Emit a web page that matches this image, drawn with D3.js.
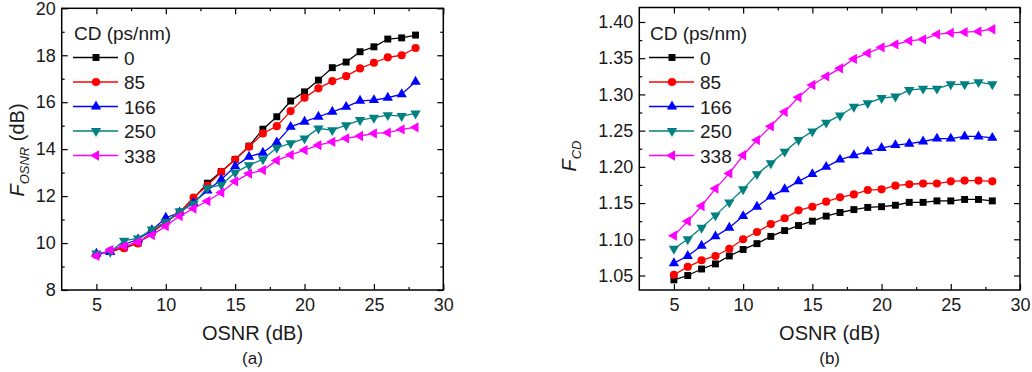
<!DOCTYPE html>
<meta charset="utf-8">
<style>
/*	style definitions	*/
body {
  margin: 0;
  background: #fff;
}

svg {
  font-family: "Liberation Sans", Arial, sans-serif;
}

.axis path {
  display: none;
}

.axis line {
  stroke: #000;
  stroke-width: 1.2px;
}

.axis text {
  font-size: 18px;
  fill: #1a1a1a;
}

.frame {
  fill: none;
  stroke: #000;
  stroke-width: 1.5px;
}

.line {
  fill: none;
  stroke-width: 1.3px;
}

.legend text,
.title {
  font-size: 19px;
  fill: #1a1a1a;
}
</style>

<svg id="chart" width="1032" height="372"></svg>

<script src="https://d3js.org/d3.v7.min.js"></script>

<script>
//	x values (OSNR, dB)
var osnr = [5, 6, 7, 8, 9, 10, 11, 12, 13, 14, 15, 16, 17, 18, 19, 20, 21, 22, 23, 24, 25, 26, 27, 28];

//	legend
var cdLabels = ["0", "85", "166", "250", "338"];
var colors = ["#000000", "#ff0000", "#0000ff", "#008080", "#ff00ff"];

//	panel (a): F_OSNR (dB)
var fOsnr0   = [9.5, 9.65, 9.8, 10.0, 10.45, 10.9, 11.3, 11.9, 12.55, 13.05, 13.56, 14.13, 14.85, 15.38, 16.05, 16.44, 16.94, 17.47, 17.71, 18.15, 18.36, 18.69, 18.74, 18.86];
var fOsnr85  = [9.5, 9.65, 9.78, 9.98, 10.45, 10.9, 11.3, 11.94, 12.45, 13.03, 13.56, 14.1, 14.67, 14.98, 15.62, 16.19, 16.59, 16.9, 17.11, 17.44, 17.68, 17.91, 18.0, 18.31];
var fOsnr166 = [9.55, 9.62, 9.95, 10.15, 10.55, 11.08, 11.3, 11.72, 12.24, 12.71, 13.27, 13.68, 13.85, 14.29, 14.95, 15.17, 15.38, 15.59, 15.8, 16.06, 16.09, 16.19, 16.34, 16.87];
var fOsnr250 = [9.56, 9.63, 10.1, 10.2, 10.58, 10.9, 11.36, 11.68, 12.35, 12.48, 13.0, 13.32, 13.57, 14.06, 14.25, 14.46, 14.88, 14.81, 15.02, 15.24, 15.34, 15.45, 15.41, 15.52];
var fOsnr338 = [9.45, 9.7, 9.87, 10.05, 10.34, 10.72, 11.15, 11.47, 11.79, 12.15, 12.63, 12.96, 13.11, 13.52, 13.76, 13.96, 14.17, 14.31, 14.46, 14.56, 14.67, 14.7, 14.84, 14.93];

//	panel (b): F_CD
var fCd0   = [1.044, 1.05, 1.059, 1.066, 1.077, 1.086, 1.094, 1.104, 1.112, 1.119, 1.125, 1.132, 1.137, 1.141, 1.144, 1.145, 1.147, 1.151, 1.151, 1.153, 1.153, 1.155, 1.155, 1.153];
var fCd85  = [1.051, 1.062, 1.071, 1.077, 1.087, 1.1, 1.11, 1.121, 1.129, 1.14, 1.145, 1.152, 1.158, 1.162, 1.168, 1.169, 1.174, 1.176, 1.177, 1.177, 1.18, 1.181, 1.181, 1.18];
var fCd166 = [1.067, 1.077, 1.091, 1.104, 1.116, 1.132, 1.145, 1.159, 1.169, 1.18, 1.19, 1.2, 1.21, 1.216, 1.221, 1.226, 1.23, 1.232, 1.235, 1.239, 1.239, 1.242, 1.242, 1.24];
var fCd250 = [1.087, 1.1, 1.116, 1.133, 1.151, 1.169, 1.19, 1.205, 1.221, 1.237, 1.249, 1.261, 1.271, 1.283, 1.288, 1.295, 1.297, 1.306, 1.308, 1.308, 1.314, 1.314, 1.317, 1.314];
var fCd338 = [1.105, 1.125, 1.146, 1.17, 1.191, 1.216, 1.237, 1.256, 1.276, 1.296, 1.313, 1.325, 1.336, 1.349, 1.357, 1.365, 1.369, 1.374, 1.376, 1.383, 1.385, 1.386, 1.387, 1.39];

//	tick values
var xMajor = [5, 10, 15, 20, 25, 30];
var xMinor = [7.5, 12.5, 17.5, 22.5, 27.5];
var yMajorA = [8, 10, 12, 14, 16, 18, 20];
var yMinorA = [9, 11, 13, 15, 17, 19];
var yMajorB = [1.05, 1.10, 1.15, 1.20, 1.25, 1.30, 1.35, 1.40];
var yMinorB = [1.075, 1.125, 1.175, 1.225, 1.275, 1.325, 1.375];

var svg = d3.select("svg#chart");

//	marker shapes: square, circle, up, down, left triangles
var shapes = [
  {type: d3.symbolSquare, size: 48, rot: 0},
  {type: d3.symbolCircle, size: 52, rot: 0},
  {type: d3.symbolTriangle, size: 46, rot: 0},
  {type: d3.symbolTriangle, size: 46, rot: 180},
  {type: d3.symbolTriangle, size: 46, rot: -90}
];

function marker(sel, i) {
  sel.attr("d", d3.symbol().type(shapes[i].type).size(shapes[i].size)())
    .attr("fill", colors[i]);
}

function drawPanel(p) {
  var x = d3.scaleLinear().domain([2.5, 30]).range([p.left, p.right]);
  var y = d3.scaleLinear().domain(p.yDomain).range([290, p.top]);
  var g = svg.append("g");

  //	frame
  g.append("rect").attr("class", "frame")
    .attr("x", p.left).attr("y", p.top)
    .attr("width", p.right - p.left).attr("height", 290 - p.top);

  //	axes, ticks point inward
  g.append("g").attr("class", "axis").attr("transform", "translate(0,290)")
    .call(d3.axisBottom(x).tickValues(xMajor).tickSize(-6).tickPadding(8).tickSizeOuter(0));
  g.append("g").attr("class", "axis").attr("transform", "translate(0,290)")
    .call(d3.axisBottom(x).tickValues(xMinor).tickSize(-3).tickFormat("").tickSizeOuter(0));
  g.append("g").attr("class", "axis").attr("transform", "translate(0," + p.top + ")")
    .call(d3.axisTop(x).tickValues(xMajor).tickSize(-6).tickFormat("").tickSizeOuter(0));
  g.append("g").attr("class", "axis").attr("transform", "translate(0," + p.top + ")")
    .call(d3.axisTop(x).tickValues(xMinor).tickSize(-3).tickFormat("").tickSizeOuter(0));

  g.append("g").attr("class", "axis").attr("transform", "translate(" + p.left + ",0)")
    .call(d3.axisLeft(y).tickValues(p.yMajor).tickSize(-6).tickPadding(6).tickFormat(p.fmt).tickSizeOuter(0));
  g.append("g").attr("class", "axis").attr("transform", "translate(" + p.left + ",0)")
    .call(d3.axisLeft(y).tickValues(p.yMinor).tickSize(-3).tickFormat("").tickSizeOuter(0));
  g.append("g").attr("class", "axis").attr("transform", "translate(" + p.right + ",0)")
    .call(d3.axisRight(y).tickValues(p.yMajor).tickSize(-6).tickFormat("").tickSizeOuter(0));
  g.append("g").attr("class", "axis").attr("transform", "translate(" + p.right + ",0)")
    .call(d3.axisRight(y).tickValues(p.yMinor).tickSize(-3).tickFormat("").tickSizeOuter(0));

  //	series
  var line = d3.line().x(function(d) { return x(d[0]); }).y(function(d) { return y(d[1]); });

  p.series.forEach(function(vals, i) {
    var pts = osnr.map(function(o, k) { return [o, vals[k]]; });
    var s = g.append("g");
    s.append("path").attr("class", "line").attr("stroke", colors[i]).attr("d", line(pts));
    s.selectAll("path.pt").data(pts).enter().append("path")
      .attr("class", "pt")
      .attr("transform", function(d) { return "translate(" + x(d[0]) + "," + y(d[1]) + ") rotate(" + shapes[i].rot + ")"; })
      .call(marker, i);
  });

  //	legend
  var lg = g.append("g").attr("class", "legend");
  lg.append("text").attr("x", p.legX).attr("y", 40).text("CD (ps/nm)");
  cdLabels.forEach(function(lab, i) {
    var yy = 57.5 + i * 24.5;
    lg.append("line").attr("x1", p.legX - 1).attr("x2", p.legX + 44)
      .attr("y1", yy).attr("y2", yy)
      .attr("stroke", colors[i]).attr("stroke-width", 1.3);
    lg.append("path")
      .attr("transform", "translate(" + (p.legX + 22) + "," + yy + ") rotate(" + shapes[i].rot + ")")
      .call(marker, i);
    lg.append("text").attr("x", p.legX + 50).attr("y", yy + 7).text(lab);
  });

  //	x title and panel tag
  var cx = (p.left + p.right) / 2;
  g.append("text").attr("class", "title").attr("x", cx).attr("y", 340)
    .attr("text-anchor", "middle").style("font-size", "20px").text("OSNR (dB)");
  g.append("text").attr("class", "title").attr("x", cx).attr("y", 364)
    .attr("text-anchor", "middle").style("font-size", "17px").text(p.tag);

  //	y title, rotated
  var yt = g.append("text").attr("class", "title")
    .attr("transform", "translate(" + p.yTitleX + "," + p.yTitleY + ") rotate(-90)")
    .attr("text-anchor", "middle").style("font-size", "20px");
  yt.append("tspan").style("font-style", "italic").text("F");
  yt.append("tspan").style("font-style", "italic").style("font-size", "13px").attr("dy", 5).text(p.sub);
  if (p.unit) yt.append("tspan").attr("dy", -5).text(p.unit);
}

drawPanel({
  left: 61.7, right: 443.3, top: 8.3,
  yDomain: [8, 20], yMajor: yMajorA, yMinor: yMinorA, fmt: d3.format("d"),
  series: [fOsnr0, fOsnr85, fOsnr166, fOsnr250, fOsnr338],
  legX: 74, tag: "(a)",
  yTitleX: 24, yTitleY: 150, sub: "OSNR", unit: " (dB)"
});

drawPanel({
  left: 639.3, right: 1020, top: 7.5,
  yDomain: [1.03, 1.42], yMajor: yMajorB, yMinor: yMinorB, fmt: d3.format(".2f"),
  series: [fCd0, fCd85, fCd166, fCd250, fCd338],
  legX: 650, tag: "(b)",
  yTitleX: 576, yTitleY: 156, sub: "CD", unit: ""
});
</script>
